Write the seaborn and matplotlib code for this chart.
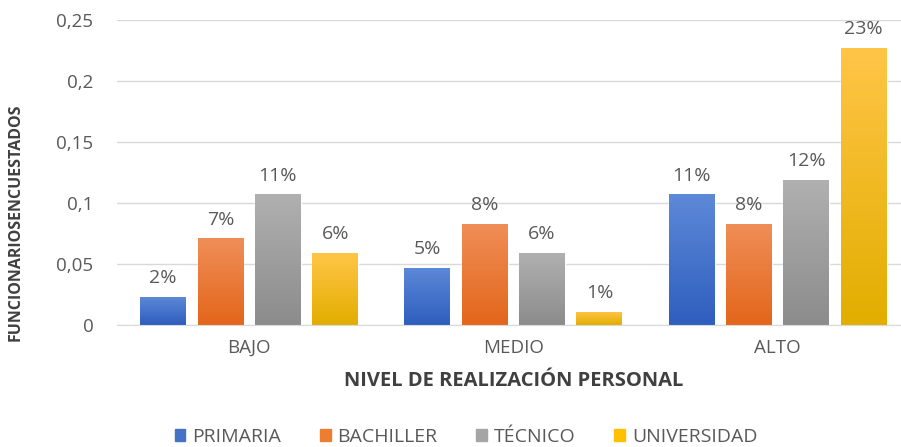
import pandas as pd
import numpy as np
import matplotlib.pyplot as plt
import seaborn as sns
from matplotlib.colors import LinearSegmentedColormap
from matplotlib.patches import Patch

# Data
niveles = ['BAJO', 'MEDIO', 'ALTO']
educacion = ['PRIMARIA', 'BACHILLER', 'TÉCNICO', 'UNIVERSIDAD']
primaria = [0.023, 0.047, 0.107]
bachiller = [0.071, 0.083, 0.083]
tecnico = [0.107, 0.059, 0.119]
universidad = [0.059, 0.011, 0.227]

df = pd.DataFrame({
    'Nivel': niveles * 4,
    'Educacion': np.repeat(educacion, 3),
    'Valor': primaria + bachiller + tecnico + universidad,
})

base_colors = ['#4472C4', '#ED7D31', '#A5A5A5', '#FFC000']
grad = {
    '#4472C4': ('#5E89D8', '#2E5EBE'),
    '#ED7D31': ('#F08E58', '#E3661A'),
    '#A5A5A5': ('#B0B0B0', '#8C8C8C'),
    '#FFC000': ('#FFC547', '#E2AE00'),
}

sns.set_style('white')
plt.rcParams['font.family'] = ['Open Sans', 'DejaVu Sans']

fig = plt.figure(figsize=(9.01, 4.47), dpi=100)
ax = fig.add_axes([117/901, 1 - 325/447, (901 - 117)/901, 305/447])

sns.barplot(data=df, x='Nivel', y='Valor', hue='Educacion', hue_order=educacion,
            palette=base_colors, width=0.868, gap=0.2, ax=ax, legend=False,
            errorbar=None)

# gradient fill for each bar
for i, cont in enumerate(ax.containers):
    top, bot = grad[base_colors[i]]
    cmap = LinearSegmentedColormap.from_list('g', [bot, top])
    for bar in cont:
        x0, y0 = bar.get_x(), bar.get_y()
        w, h = bar.get_width(), bar.get_height()
        im = ax.imshow(np.linspace(0, 1, 100).reshape(-1, 1), cmap=cmap,
                       extent=[x0, x0 + w, y0, y0 + h], origin='lower',
                       aspect='auto', zorder=bar.get_zorder() + 0.1)
        im.set_clip_path(bar)
        ax.annotate(f'{round(h * 100):.0f}%', (x0 + w / 2, h),
                    xytext=(0, 7), textcoords='offset points',
                    ha='center', va='bottom', fontsize=14, color='#595959')

ax.set_xlim(-0.5, -0.5 + 784 / 264.25)
ax.set_ylim(0, 0.25)
ax.set_yticks([0, 0.05, 0.1, 0.15, 0.2, 0.25])
ax.set_yticklabels(['0', '0,05', '0,1', '0,15', '0,2', '0,25'])
ax.yaxis.grid(True, color='#D9D9D9', linewidth=1)
ax.set_axisbelow(True)
for s in ['top', 'right', 'left']:
    ax.spines[s].set_visible(False)
ax.spines['bottom'].set_color('#D9D9D9')
ax.tick_params(axis='both', length=0, labelsize=13.5, colors='#595959')
ax.tick_params(axis='y', pad=17)
ax.tick_params(axis='x', pad=10)
ax.set_xlabel('')
ax.set_ylabel('')

fig.text(514/901, 1 - 381/447, 'NIVEL DE REALIZACIÓN PERSONAL', ha='center', va='center',
         fontsize=14.5, fontweight='bold', color='#404040')
fig.text(16/901, 1 - 222/447, 'FUNCIONARIOSENCUESTADOS', ha='center', va='center',
         rotation=90, fontsize=11.5, fontweight='bold', color='#404040')

handles = [Patch(color=c, label=l) for c, l in zip(base_colors, educacion)]
fig.legend(handles=handles, loc='center', bbox_to_anchor=(466/901, 1 - 437/447), ncol=4,
           frameon=False, fontsize=14, handlelength=0.55, handleheight=0.55,
           handletextpad=0.35, columnspacing=2.0, labelcolor='#595959')

plt.savefig('out.png', dpi=100)
